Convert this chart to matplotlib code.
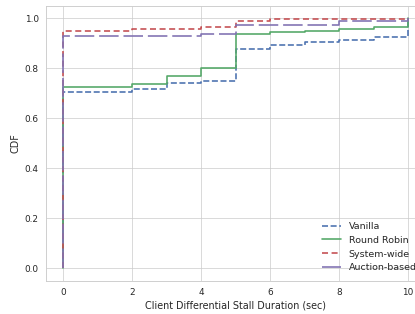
import matplotlib
matplotlib.use("Agg")
import matplotlib.pyplot as plt
import seaborn as sns

sns.set_theme(style="whitegrid", context="paper")
plt.rcParams['font.family'] = ['DejaVu Sans']

# Step breakpoints (stall duration, sec) and CDF values
stall_x = [0, 0, 2, 3, 4, 5, 6, 7, 8, 9, 10]
vanilla = [0, 0.707, 0.717, 0.740, 0.750, 0.878, 0.895, 0.905, 0.913, 0.924, 1.0]
round_robin = [0, 0.726, 0.736, 0.770, 0.802, 0.937, 0.945, 0.949, 0.957, 0.966, 1.0]
system_wide = [0, 0.951, 0.956, 0.956, 0.966, 0.989, 0.996, 0.996, 0.996, 0.997, 1.0]
auction = [0, 0.930, 0.930, 0.930, 0.937, 0.973, 0.975, 0.975, 0.987, 0.987, 1.0]

labels = ["Vanilla", "Round Robin", "System-wide", "Auction-based"]
colors = ["#4C72B0", "#55A868", "#C44E52", "#8172B2"]
series = [vanilla, round_robin, system_wide, auction]
dashes = [(3.7, 1.6), None, (3.7, 2.2), (12, 3)]

fig = plt.figure(figsize=(415 / 65, 314 / 65), dpi=65)
ax = fig.add_axes([0.111, 0.1057, 0.914, 0.876])

for ys, lab, c, d in zip(series, labels, colors, dashes):
    if d is None:
        ax.step(stall_x, ys, where="post", color=c, lw=1.8, label=lab)
    else:
        ax.step(stall_x, ys, where="post", color=c, lw=1.8, label=lab,
                linestyle=(0, d))

ax.set_xlim(-0.5, 10.5)
ax.set_ylim(-0.05, 1.05)
ax.set_xticks([0, 2, 4, 6, 8, 10])
ax.set_yticks([0.0, 0.2, 0.4, 0.6, 0.8, 1.0])
ax.tick_params(labelsize=9.8, colors="#262626")
ax.set_xlabel("Client Differential Stall Duration (sec)", fontsize=10.6, color="#262626")
ax.set_ylabel("CDF", fontsize=10.6, color="#262626")
ax.legend(loc="lower right", fontsize=10.5, frameon=False)

fig.savefig("out.png", dpi=65)
